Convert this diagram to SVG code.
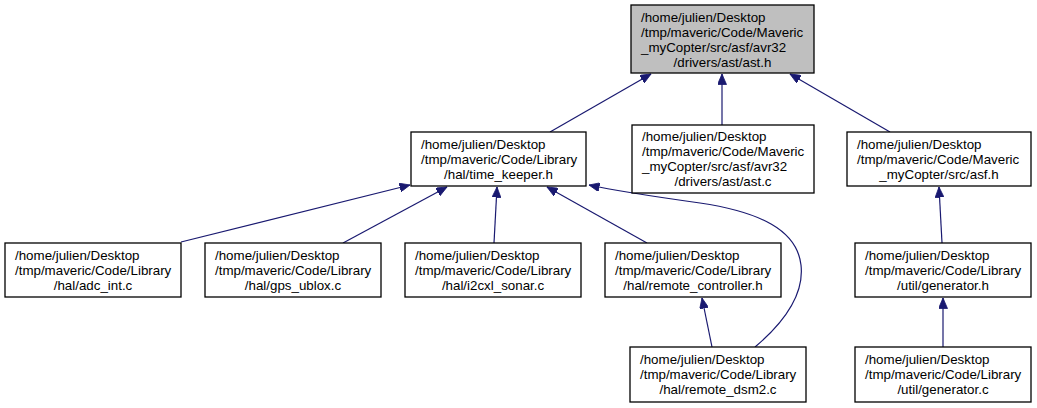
<svg xmlns="http://www.w3.org/2000/svg" width="1037" height="408" viewBox="0 0 1037 408">
<style>
.n rect{fill:#ffffff;stroke:#000000;stroke-width:1.3}
.n.root rect{fill:#bfbfbf}
.n text{font-family:"Liberation Sans",Arial,sans-serif;font-size:13.33px;fill:#000000}
.n text .c{text-anchor:middle}
.e path{fill:none;stroke:#191970;stroke-width:1.2}
</style>
<defs>
<marker id="ah" markerUnits="userSpaceOnUse" markerWidth="11" markerHeight="9" refX="10.5" refY="4.5" orient="auto">
<path d="M0,0 L10.5,4.5 L0,9 z" fill="#191970" stroke="#191970" stroke-width="0.8"/>
</marker>
</defs>
<rect width="1037" height="408" fill="#ffffff"/>
<g id="connectors" class="e">
<path d="M550,132 L651,74" marker-end="url(#ah)"/>
<path d="M722,125 L722,74" marker-end="url(#ah)"/>
<path d="M890,132 L790,74" marker-end="url(#ah)"/>
<path d="M181,242 L410,185" marker-end="url(#ah)"/>
<path d="M343,243 L447,187" marker-end="url(#ah)"/>
<path d="M494,243 L497,187" marker-end="url(#ah)"/>
<path d="M647,243 L547,187" marker-end="url(#ah)"/>
<path d="M755,347 C775,330 805,300 801,265 C797,230 760,212 700,203 C650,196 612,190 589,185" marker-end="url(#ah)"/>
<path d="M712,347 L702,298" marker-end="url(#ah)"/>
<path d="M942,243 L939,187" marker-end="url(#ah)"/>
<path d="M943,347 L943,298" marker-end="url(#ah)"/>
</g>
<g id="node_ast_h" class="n root">
<rect x="631" y="5" width="183" height="68"/>
<text><tspan x="641" y="21.5">/home/julien/Desktop</tspan><tspan x="641" y="36.5">/tmp/maveric/Code/Maveric</tspan><tspan x="641" y="51.5">_myCopter/src/asf/avr32</tspan><tspan class="c" x="722.5" y="66.5">/drivers/ast/ast.h</tspan></text>
</g>
<g id="node_time_keeper_h" class="n">
<rect x="411" y="132" width="175" height="54"/>
<text><tspan x="421" y="148.5">/home/julien/Desktop</tspan><tspan x="421" y="163.5">/tmp/maveric/Code/Library</tspan><tspan class="c" x="498.5" y="178.5">/hal/time_keeper.h</tspan></text>
</g>
<g id="node_ast_c" class="n">
<rect x="632" y="125" width="182" height="68"/>
<text><tspan x="642" y="141">/home/julien/Desktop</tspan><tspan x="642" y="156">/tmp/maveric/Code/Maveric</tspan><tspan x="642" y="171">_myCopter/src/asf/avr32</tspan><tspan class="c" x="723" y="186">/drivers/ast/ast.c</tspan></text>
</g>
<g id="node_asf_h" class="n">
<rect x="847" y="132" width="184" height="54"/>
<text><tspan x="857" y="148.5">/home/julien/Desktop</tspan><tspan x="857" y="163.5">/tmp/maveric/Code/Maveric</tspan><tspan class="c" x="939" y="178.5">_myCopter/src/asf.h</tspan></text>
</g>
<g id="node_adc_int_c" class="n">
<rect x="5" y="243" width="176" height="54"/>
<text><tspan x="15" y="259.5">/home/julien/Desktop</tspan><tspan x="15" y="274.5">/tmp/maveric/Code/Library</tspan><tspan class="c" x="93" y="289.5">/hal/adc_int.c</tspan></text>
</g>
<g id="node_gps_ublox_c" class="n">
<rect x="205" y="243" width="176" height="54"/>
<text><tspan x="215" y="259.5">/home/julien/Desktop</tspan><tspan x="215" y="274.5">/tmp/maveric/Code/Library</tspan><tspan class="c" x="293" y="289.5">/hal/gps_ublox.c</tspan></text>
</g>
<g id="node_i2cxl_sonar_c" class="n">
<rect x="405" y="243" width="176" height="54"/>
<text><tspan x="415" y="259.5">/home/julien/Desktop</tspan><tspan x="415" y="274.5">/tmp/maveric/Code/Library</tspan><tspan class="c" x="493" y="289.5">/hal/i2cxl_sonar.c</tspan></text>
</g>
<g id="node_remote_controller_h" class="n">
<rect x="605" y="243" width="176" height="54"/>
<text><tspan x="615" y="259.5">/home/julien/Desktop</tspan><tspan x="615" y="274.5">/tmp/maveric/Code/Library</tspan><tspan class="c" x="693" y="289.5">/hal/remote_controller.h</tspan></text>
</g>
<g id="node_generator_h" class="n">
<rect x="855" y="243" width="176" height="54"/>
<text><tspan x="865" y="259.5">/home/julien/Desktop</tspan><tspan x="865" y="274.5">/tmp/maveric/Code/Library</tspan><tspan class="c" x="943" y="289.5">/util/generator.h</tspan></text>
</g>
<g id="node_remote_dsm2_c" class="n">
<rect x="630" y="347" width="176" height="55"/>
<text><tspan x="640" y="363.5">/home/julien/Desktop</tspan><tspan x="640" y="378.5">/tmp/maveric/Code/Library</tspan><tspan class="c" x="718" y="393.5">/hal/remote_dsm2.c</tspan></text>
</g>
<g id="node_generator_c" class="n">
<rect x="855" y="347" width="176" height="55"/>
<text><tspan x="865" y="363.5">/home/julien/Desktop</tspan><tspan x="865" y="378.5">/tmp/maveric/Code/Library</tspan><tspan class="c" x="943" y="393.5">/util/generator.c</tspan></text>
</g>
</svg>
